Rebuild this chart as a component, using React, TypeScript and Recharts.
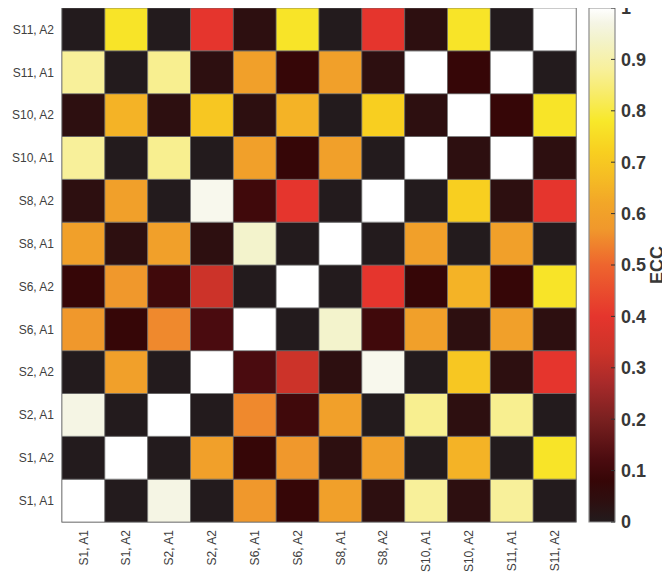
import { Bar, BarChart, Cell, ReferenceArea, XAxis, YAxis } from "recharts";

// recordings: subject + array, bottom-to-top on y and left-to-right on x
const labels = [
  "S1, A1", "S1, A2", "S2, A1", "S2, A2", "S6, A1", "S6, A2",
  "S8, A1", "S8, A2", "S10, A1", "S10, A2", "S11, A1", "S11, A2",
];

// ECC between recordings, ecc[row][col] in label order
const ecc = [
  [1, 0, 0.97, 0, 0.57, 0.08, 0.6, 0.04, 0.88, 0.04, 0.88, 0],
  [0, 1, 0, 0.6, 0.08, 0.57, 0.04, 0.6, 0, 0.65, 0, 0.77],
  [0.97, 0, 1, 0, 0.55, 0.1, 0.6, 0, 0.87, 0.04, 0.87, 0],
  [0, 0.6, 0, 1, 0.12, 0.33, 0.04, 0.98, 0, 0.7, 0.04, 0.4],
  [0.57, 0.08, 0.55, 0.12, 1, 0, 0.94, 0.1, 0.6, 0.04, 0.6, 0.04],
  [0.08, 0.57, 0.1, 0.33, 0, 1, 0, 0.4, 0.08, 0.65, 0.08, 0.77],
  [0.6, 0.04, 0.6, 0.04, 0.94, 0, 1, 0, 0.6, 0, 0.6, 0],
  [0.04, 0.6, 0, 0.98, 0.1, 0.4, 0, 1, 0, 0.72, 0.04, 0.4],
  [0.88, 0, 0.87, 0, 0.6, 0.08, 0.6, 0, 1, 0.04, 1, 0.04],
  [0.04, 0.65, 0.04, 0.7, 0.04, 0.65, 0, 0.72, 0.04, 1, 0.08, 0.77],
  [0.88, 0, 0.87, 0.04, 0.6, 0.08, 0.6, 0.04, 1, 0.08, 1, 0],
  [0, 0.77, 0, 0.4, 0.04, 0.77, 0, 0.4, 0.04, 0.77, 0, 1],
];

const colorbarTicks = [0, 0.1, 0.2, 0.3, 0.4, 0.5, 0.6, 0.7, 0.8, 0.9, 1];

// hot-style colormap
const cmapStops: [number, string][] = [
  [0, "#231b1d"],
  [0.04, "#2d0f10"],
  [0.08, "#360607"],
  [0.12, "#4a0b0f"],
  [0.2, "#7a2020"],
  [0.27, "#a82a2a"],
  [0.33, "#cc3329"],
  [0.4, "#e5352d"],
  [0.5, "#ee652e"],
  [0.57, "#f0982c"],
  [0.62, "#f2a628"],
  [0.67, "#f5bc24"],
  [0.72, "#f8cf20"],
  [0.78, "#f8e82a"],
  [0.84, "#f8ec70"],
  [0.88, "#f8f09a"],
  [0.94, "#f3f3cc"],
  [0.97, "#f5f5e4"],
  [1, "#ffffff"],
];

const FONT = "'Liberation Sans', Arial, sans-serif";

function rgb(hex: string) {
  const n = parseInt(hex.slice(1), 16);
  return [(n >> 16) & 255, (n >> 8) & 255, n & 255];
}

function eccColor(v: number) {
  for (let k = 1; k < cmapStops.length; k++) {
    const [v1, c1] = cmapStops[k];
    if (v <= v1) {
      const [v0, c0] = cmapStops[k - 1];
      const t = (v - v0) / (v1 - v0);
      const a = rgb(c0);
      const b = rgb(c1);
      const m = a.map((x, i) => Math.round(x + (b[i] - x) * t));
      return `rgb(${m[0]},${m[1]},${m[2]})`;
    }
  }
  return cmapStops[cmapStops.length - 1][1];
}

// one category per column, one stacked unit segment per row
const columns = labels.map((name) => {
  const row: Record<string, string | number> = { name };
  labels.forEach((_, i) => (row[`r${i}`] = 1));
  return row;
});

const colorbarData = [{ name: "ECC", span: 1 }];

function XTick({ x, y, payload }: any) {
  return (
    <text
      x={x}
      y={y}
      transform={`rotate(-90, ${x}, ${y})`}
      textAnchor="end"
      dy="0.35em"
      fontSize={12}
      fontFamily={FONT}
      fill="#404040"
    >
      {payload.value}
    </text>
  );
}

export default function App() {
  return (
    <div style={{ position: "relative", width: 670, height: 575, margin: "-8px 0 0 -8px", background: "#fff" }}>
      <div style={{ position: "absolute", left: 0, top: 0 }}>
        <BarChart
          width={580}
          height={575}
          data={columns}
          margin={{ top: 8, right: 4, bottom: 8, left: 8 }}
          barCategoryGap={0}
          barGap={0}
        >
          <XAxis
            dataKey="name"
            type="category"
            interval={0}
            height={45}
            tickLine={false}
            axisLine={false}
            tick={<XTick />}
          />
          <YAxis
            type="number"
            domain={[0, labels.length]}
            ticks={labels.map((_, i) => i + 0.5)}
            tickFormatter={(v: number) => labels[Math.floor(v)]}
            width={54}
            tickLine={false}
            axisLine={false}
            interval={0}
            tick={{ fontSize: 12, fontFamily: FONT, fill: "#404040" }}
          />
          {labels.map((_, i) => (
            <Bar
              key={i}
              dataKey={`r${i}`}
              stackId="m"
              isAnimationActive={false}
              stroke="#6a6a6a"
              strokeOpacity={0.7}
              strokeWidth={1}
            >
              {labels.map((__, j) => (
                <Cell key={j} fill={eccColor(ecc[i][j])} />
              ))}
            </Bar>
          ))}
          <ReferenceArea y1={0} y2={labels.length} fill="none" stroke="#9a9a9a" strokeWidth={1.5} />
        </BarChart>
      </div>
      <div style={{ position: "absolute", left: 580, top: 0 }}>
        <BarChart
          width={90}
          height={575}
          data={colorbarData}
          margin={{ top: 8, right: 0, bottom: 53, left: 9 }}
          barCategoryGap={0}
        >
          <defs>
            <linearGradient id="eccGrad" x1="0" y1="1" x2="0" y2="0">
              {cmapStops.map(([v, c]) => (
                <stop key={v} offset={v} stopColor={c} />
              ))}
            </linearGradient>
          </defs>
          <XAxis dataKey="name" hide />
          <YAxis
            type="number"
            orientation="right"
            domain={[0, 1]}
            ticks={colorbarTicks}
            interval={0}
            width={55}
            axisLine={false}
            tickSize={-4}
            tickMargin={10}
            tickLine={{ stroke: "#333" }}
            tick={{ fontSize: 18, fontWeight: "bold", fontFamily: FONT, fill: "#383838" }}
            label={{
              value: "ECC",
              angle: -90,
              position: "center",
              dx: 14,
              style: { fontSize: 18, fontWeight: "bold", fontFamily: FONT, fill: "#383838" },
            }}
          />
          <Bar
            dataKey="span"
            fill="url(#eccGrad)"
            stroke="#8c8c8c"
            strokeWidth={1.2}
            isAnimationActive={false}
          />
        </BarChart>
      </div>
    </div>
  );
}
